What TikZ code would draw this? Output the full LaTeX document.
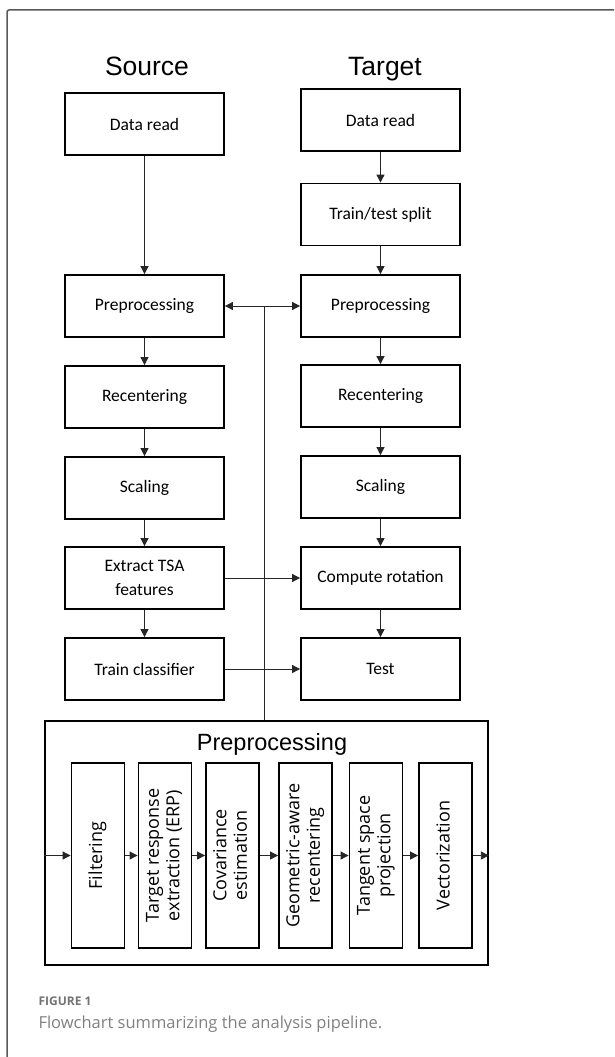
\documentclass[tikz,border=0pt]{standalone}
\usepackage{fontspec}
\setmainfont{Carlito}
\newfontfamily\headfont{Liberation Sans}
\newfontfamily\subfont{Open Sans}
\newfontfamily\capfont{Open Sans}
\usetikzlibrary{arrows.meta}
\usetikzlibrary{positioning}

\newcommand{\vtext}[1]{\rotatebox{90}{\begin{tabular}{@{}c@{}}#1\end{tabular}}}

\tikzset{
 box/.style={draw, line width=1.8pt, minimum width=159pt, minimum height=62pt, inner sep=0pt,
  align=center, font=\fontsize{17.5}{24}\selectfont},
 subbox/.style={draw, line width=1.8pt, minimum width=53pt, minimum height=185pt, inner sep=0pt,
  font=\subfont\fontsize{18}{20.5}\selectfont},
 arr/.style={draw=black!85, line width=0.8pt, -{Triangle[length=8pt,width=8pt]}},
 head/.style={anchor=base, font=\headfont\fontsize{26.5}{30}\selectfont},
}

\begin{document}
\begin{tikzpicture}[x=1pt, y=-1pt]
\useasboundingbox (0,0) rectangle (614,1057);
\draw[black!65, line width=1.5pt, rounded corners=2pt] (7,1057) |- (614,10);

% titles
\node[head] (src) at (147,75) {Source};
\node[head] (tgt) at (385,75) {Target};

% source column
\node[box] (sread)  at (144.5,124) {Data read};
\node[box] (sprep)  at (144.5,306) {Preprocessing};
\node[box] (srec)   at (144.5,397) {Recentering};
\node[box] (sscal)  at (144.5,488) {Scaling};
\node[box] (stsa)   at (144.5,578) {Extract TSA\\features};
\node[box] (strain) at (144.5,669) {Train classifier};

% target column
\node[box] (tread)  at (380.5,120) {Data read};
\node[box] (tsplit) at (380.5,214.5) {Train/test split};
\node[box] (tprep)  at (380.5,306) {Preprocessing};
\node[box] (trec)   at (380.5,396) {Recentering};
\node[box] (tscal)  at (380.5,487) {Scaling};
\node[box] (trot)   at (380.5,578) {Compute rotation};
\node[box] (ttest)  at (380.5,669) {Test};

\foreach \a/\b in {sread/sprep, sprep/srec, srec/sscal, sscal/stsa, stsa/strain,
                   tread/tsplit, tsplit/tprep, tprep/trec, trec/tscal, tscal/trot, trot/ttest}
 \draw[arr] (\a) -- (\b);
\draw[arr] (stsa) -- (trot);
\draw[arr] (strain) -- (ttest);

% preprocessing detail
\node[draw, line width=1.8pt, minimum width=443pt, minimum height=244pt, inner sep=0pt] (pre) at (266.5,843) {};
\node[anchor=base, font=\headfont\fontsize{23.5}{28}\selectfont] (pretitle) at (272,750) {Preprocessing};

\node[subbox] (filt) at (98,855.5)    {\vtext{Filtering}};
\node[subbox] (erp)  at (165,855.5)   {\vtext{Target response\\extraction (ERP)}};
\node[subbox] (cov)  at (232.5,855.5) {\vtext{Covariance\\estimation}};
\node[subbox] (geo)  at (305.5,855.5) {\vtext{Geometric-aware\\recentering}};
\node[subbox] (tan)  at (376,855.5)   {\vtext{Tangent space\\projection}};
\node[subbox] (vec)  at (445.5,855.5) {\vtext{Vectorization}};

\draw[arr] (filt.west -| pre.west) -- (filt);
\foreach \a/\b in {filt/erp, erp/cov, cov/geo, geo/tan, tan/vec}
 \draw[arr] (\a) -- (\b);
\draw[arr] (vec) -- (vec.east -| pre.east);

% link to both preprocessing boxes
\coordinate (jn) at (264,306);
\draw[draw=black!85, line width=0.8pt] (jn |- pre.north) -- (jn);
\draw[arr] (jn) -- (sprep);
\draw[arr] (jn) -- (tprep);

% caption
\node[anchor=base west, text=black!55, font=\capfont\bfseries\fontsize{12}{14}\selectfont] (fig) at (35,1005) {FIGURE 1};
\node[anchor=base west, text=black!50, font=\capfont\fontsize{16.5}{20}\selectfont] (cap) at (35,1028) {Flowchart summarizing the analysis pipeline.};
\end{tikzpicture}
\end{document}
